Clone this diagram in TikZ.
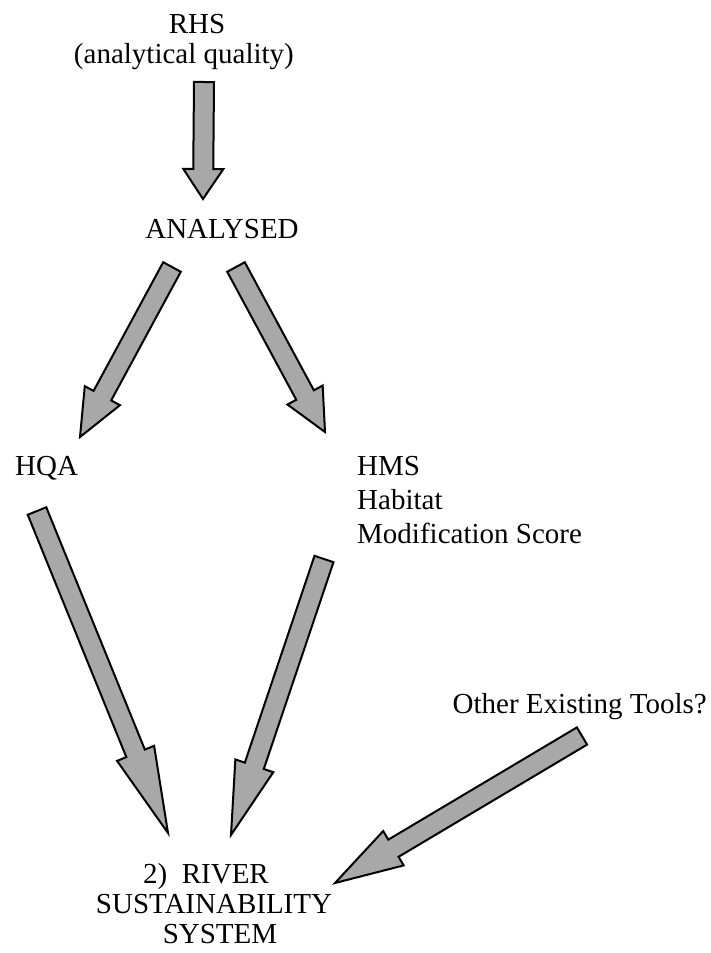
\documentclass[tikz,border=0pt]{standalone}
\usepackage{fontspec}
\setmainfont{Liberation Serif}
\usetikzlibrary{calc}

\definecolor{arrowgray}{gray}{0.66}

% Broad outlined block arrow from tail #1 to tip #2 with head length #3
\newcommand\blockarrow[3]{%
  \path ($(#2)!#3!(#1)$) coordinate (hb);
  \draw[arrowbody]
    ($(#1)!10pt!90:(#2)$) -- ($(hb)!10pt!90:(#2)$) -- ($(hb)!20pt!90:(#2)$)
    -- (#2)
    -- ($(hb)!20pt!-90:(#2)$) -- ($(hb)!10pt!-90:(#2)$) -- ($(#1)!10pt!-90:(#2)$)
    -- cycle;
}

\begin{document}
\begin{tikzpicture}[x=1pt,y=-1pt,
  label/.style={inner sep=0pt, font=\fontsize{29}{31}\selectfont},
  arrowbody/.style={fill=arrowgray, draw=black, line width=2pt, line join=miter}]
\useasboundingbox[fill=white] (0,0) rectangle (711,953);

% text
\node[label, anchor=base] (rhs) at (197,33) {RHS};
\node[label, anchor=base east] (rhsq) at (294,63) {(analytical quality)};
\node[label, anchor=base] (analysed) at (222,238) {ANALYSED};
\node[label, anchor=base west] (hqa) at (15,475) {HQA};
\node[label, anchor=base west] (hms) at (357,475) {HMS};
\node[label, anchor=base west] (hmsa) at (357,509) {Habitat};
\node[label, anchor=base west] (hmsb) at (357,543) {Modification Score};
\node[label, anchor=base east] (other) at (707,713) {Other Existing Tools?};
\node[label, anchor=base] (river) at (206,883) {2)\ \ RIVER};
\node[label, anchor=base] (rivera) at (214,913) {SUSTAINABILITY};
\node[label, anchor=base] (riverb) at (220,943) {SYSTEM};

% arrow ends
\coordinate (rhs-out) at (204,82);
\coordinate (analysed-in) at (203,199);
\coordinate (analysed-l) at (172,267);
\coordinate (hqa-in) at (80,437);
\coordinate (analysed-r) at (236,267);
\coordinate (hms-in) at (325,432);
\coordinate (hqa-out) at (37,511);
\coordinate (river-l) at (168,833);
\coordinate (hms-out) at (324,559);
\coordinate (river-m) at (231,835);
\coordinate (other-out) at (582,736);
\coordinate (river-r) at (335,883);

% arrows
\blockarrow{rhs-out}{analysed-in}{30pt}
\blockarrow{analysed-l}{hqa-in}{47pt}
\blockarrow{analysed-r}{hms-in}{42pt}
\blockarrow{hqa-out}{river-l}{86pt}
\blockarrow{hms-out}{river-m}{73pt}
\blockarrow{other-out}{river-r}{68pt}
\end{tikzpicture}
\end{document}
